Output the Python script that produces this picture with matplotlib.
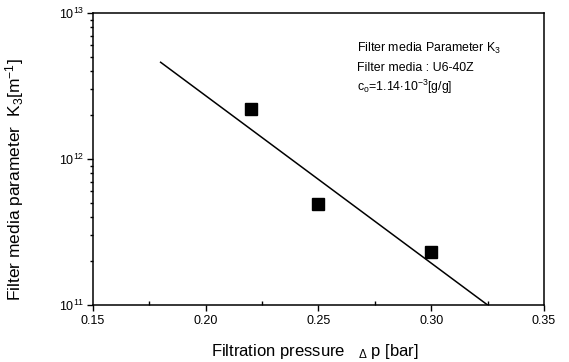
import matplotlib
matplotlib.use("Agg")
import matplotlib.pyplot as plt
from matplotlib.ticker import LogLocator, MultipleLocator, FuncFormatter
import math

plt.rcParams['font.family'] = ['Liberation Sans', 'DejaVu Sans']
plt.rcParams['mathtext.fontset'] = 'custom'
plt.rcParams['mathtext.rm'] = 'Liberation Sans'
plt.rcParams['mathtext.it'] = 'Liberation Sans:italic'
plt.rcParams['mathtext.bf'] = 'Liberation Sans:bold'

# data
pressure = [0.22, 0.25, 0.30]
k3 = [2.2e12, 4.9e11, 2.3e11]
fit_x = [0.18, 0.325]
fit_y = [4.6e12, 1.0e11]
xticks = [0.15, 0.20, 0.25, 0.30, 0.35]
xticklabels = ["0.15", "0.20", "0.25", "0.30", "0.35"]

fig = plt.figure(figsize=(5.69, 3.62), dpi=100)
ax = fig.add_axes([0.1634, 0.1575, 0.7926, 0.8065])

ax.plot(fit_x, fit_y, color='black', lw=1.1)
ax.plot(pressure, k3, 's', color='black', markersize=8)

ax.set_yscale('log')
ax.set_xlim(0.15, 0.35)
ax.set_ylim(1e11, 1e13)
ax.set_xticks(xticks)
ax.set_xticklabels(xticklabels)
ax.xaxis.set_minor_locator(MultipleLocator(0.025))
ax.yaxis.set_major_formatter(FuncFormatter(lambda v, p: "10$^{%d}$" % round(math.log10(v))))
ax.yaxis.set_minor_locator(LogLocator(base=10, subs=range(2, 10)))
ax.yaxis.set_minor_formatter(plt.NullFormatter())

ax.tick_params(axis='both', which='major', labelsize=9, direction='out', length=4, width=1, top=False, right=False)
ax.tick_params(axis='x', which='minor', direction='in', length=3, width=1, top=False)
ax.tick_params(axis='y', which='minor', direction='out', length=2.5, width=1, right=False)
ax.tick_params(axis='x', pad=3)
ax.tick_params(axis='y', pad=2)

for s in ax.spines.values():
    s.set_linewidth(1.1)

ax.set_xlabel("Filtration pressure   $_\\Delta$ p [bar]", fontsize=12)
ax.xaxis.set_label_coords(0.491, -0.128)
ax.set_ylabel("Filter media parameter  K$_3$[m$^{-1}$]", fontsize=12.5)
ax.yaxis.set_label_coords(-0.149, 0.428)

ax.text(0.585, 0.868, "Filter media Parameter K$_3$", transform=ax.transAxes, fontsize=8.9)
ax.text(0.585, 0.800, "Filter media : U6-40Z", transform=ax.transAxes, fontsize=8.9)
ax.text(0.585, 0.732, "c$_\\mathrm{o}$=1.14$\\cdot$10$^{-3}$[g/g]", transform=ax.transAxes, fontsize=8.9)

fig.savefig("out.png", dpi=100)
